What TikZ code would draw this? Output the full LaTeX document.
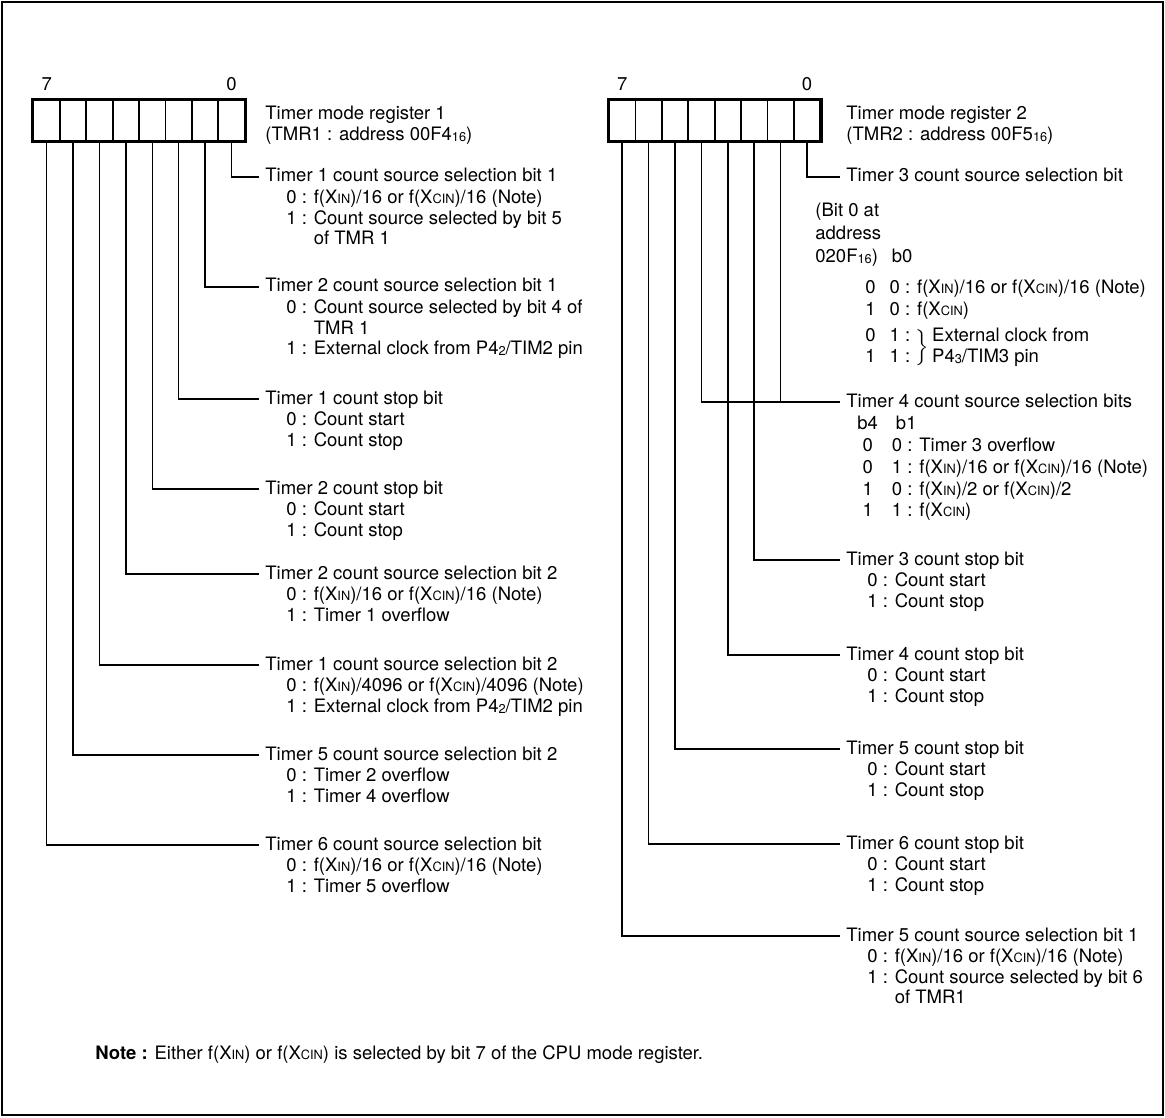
\documentclass[tikz,border=0pt]{standalone}
\usepackage{fontspec}
\setmainfont{TeX Gyre Heros}
\usepackage{tikz}
\usetikzlibrary{positioning}

\newcommand{\Xin}{X{\fontsize{6.4}{7}\selectfont IN}}
\newcommand{\Xcin}{X{\fontsize{6.4}{7}\selectfont CIN}}
\newcommand{\lo}[1]{\raisebox{-0.5pt}{\fontsize{6.4}{7}\selectfont #1}}
\newcommand{\fs}{\rule{0pt}{8.35pt}}
\renewcommand{\arraystretch}{1.05}

\tikzset{
  cell/.style={draw,line width=0.9pt,minimum width=13.2pt,minimum height=20.5pt,inner sep=0pt},
  regbox/.style={draw,line width=1.5pt},
  leader/.style={line width=0.75pt},
  bitno/.style={inner sep=0pt},
  title/.style={anchor=west,inner xsep=3pt,inner ysep=0pt,text height=7pt,text depth=2pt},
  detail/.style={anchor=north west,inner xsep=3pt,inner ysep=0pt,align=left},
  every node/.append style={font=\fontsize{9.25}{10.35}\selectfont}
}

\begin{document}
\begin{tikzpicture}[x=0.5pt,y=-0.5pt]
  \useasboundingbox (0,0) rectangle (1165,1117);
  \draw[line width=1.2pt] (2,2) rectangle (1163,1115);
  \foreach \b in {0,...,7}{
    \node[cell] (l\b) at ({46.7+26.4*(7-\b)},120.5) {};
    \node[cell] (r\b) at ({622.2+26.4*(7-\b)},120.5) {};
  }
  \draw[regbox] (l7.north west) rectangle (l0.south east);
  \draw[regbox] (r7.north west) rectangle (r0.south east);
  \node[bitno,above=4pt of l7] (l7n) {7};
  \node[bitno,above=4pt of l0] (l0n) {0};
  \node[bitno,above=4pt of r7] (r7n) {7};
  \node[bitno,above=4pt of r0] (r0n) {0};

  \node[anchor=west,align=left,inner xsep=3pt] (lname) at (259,125) {Timer mode register 1\\(TMR1 : address 00F4\lo{16})};
  \node[anchor=west,align=left,inner xsep=3pt] (rname) at (840,125) {Timer mode register 2\\(TMR2 : address 00F5\lo{16})};

  \node[title] (tl0) at (259,177) {Timer 1 count source selection bit 1};
  \node[detail] (dl0) at ([xshift=10.5pt]tl0.south west) {\fs 0 : f(\Xin)/16 or f(\Xcin)/16 (Note)\\1 : Count source selected by bit 5\\\phantom{1 : }of TMR 1};
  \node[title] (tl1) at (259,287) {Timer 2 count source selection bit 1};
  \node[detail] (dl1) at ([xshift=10.5pt]tl1.south west) {\fs 0 : Count source selected by bit 4 of\\\phantom{0 : }TMR 1\\1 : External clock from P4\lo{2}/TIM2 pin};
  \node[title] (tl2) at (259,399) {Timer 1 count stop bit};
  \node[detail] (dl2) at ([xshift=10.5pt]tl2.south west) {\fs 0 : Count start\\1 : Count stop};
  \node[title] (tl3) at (259,489) {Timer 2 count stop bit};
  \node[detail] (dl3) at ([xshift=10.5pt]tl3.south west) {\fs 0 : Count start\\1 : Count stop};
  \node[title] (tl4) at (259,574) {Timer 2 count source selection bit 2};
  \node[detail] (dl4) at ([xshift=10.5pt]tl4.south west) {\fs 0 : f(\Xin)/16 or f(\Xcin)/16 (Note)\\1 : Timer 1 overflow};
  \node[title] (tl5) at (259,665) {Timer 1 count source selection bit 2};
  \node[detail] (dl5) at ([xshift=10.5pt]tl5.south west) {\fs 0 : f(\Xin)/4096 or f(\Xcin)/4096 (Note)\\1 : External clock from P4\lo{2}/TIM2 pin};
  \node[title] (tl6) at (259,755) {Timer 5 count source selection bit 2};
  \node[detail] (dl6) at ([xshift=10.5pt]tl6.south west) {\fs 0 : Timer 2 overflow\\1 : Timer 4 overflow};
  \node[title] (tl7) at (259,845) {Timer 6 count source selection bit};
  \node[detail] (dl7) at ([xshift=10.5pt]tl7.south west) {\fs 0 : f(\Xin)/16 or f(\Xcin)/16 (Note)\\1 : Timer 5 overflow};

  \node[title] (tr0) at (840,177) {Timer 3 count source selection bit};
  \node[anchor=west,align=left,inner sep=0pt] (hdr0) at (815,235) {(Bit 0 at\\[1.15pt]address\\[1.15pt]020F\lo{16})\hspace{7pt}b0};
  \node[anchor=west,inner sep=0pt] (rows0) at (865,324) {\begin{tabular}{@{}c@{\hspace{7pt}}l@{}}
    0 & 0 : f(\Xin)/16 or f(\Xcin)/16 (Note)\\
    1 & 0 : f(\Xcin)\\[2pt]
    0 & 1 :\rlap{\raisebox{-5.5pt}[0pt][0pt]{\,$\left.\vcenter{\hbox{\rule{0pt}{14pt}}}\right\}$\,\begin{tabular}{@{}l@{}}External clock from\\P4\lo{3}/TIM3 pin\end{tabular}}}\\
    1 & 1 :
  \end{tabular}};
  \node[title] (tr4) at (840,402) {Timer 4 count source selection bits};
  \node[anchor=west,inner sep=0pt] (rows4) at (857,469) {\begin{tabular}{@{}c@{\hspace{7pt}}l@{}}
    b4 & \hspace{2pt}b1\\
    0 & 0 : Timer 3 overflow\\
    0 & 1 : f(\Xin)/16 or f(\Xcin)/16 (Note)\\
    1 & 0 : f(\Xin)/2 or f(\Xcin)/2\\
    1 & 1 : f(\Xcin)
  \end{tabular}};
  \node[title] (tr2) at (840,560) {Timer 3 count stop bit};
  \node[detail] (dr2) at ([xshift=10.5pt]tr2.south west) {\fs 0 : Count start\\1 : Count stop};
  \node[title] (tr3) at (840,655) {Timer 4 count stop bit};
  \node[detail] (dr3) at ([xshift=10.5pt]tr3.south west) {\fs 0 : Count start\\1 : Count stop};
  \node[title] (tr5) at (840,749) {Timer 5 count stop bit};
  \node[detail] (dr5) at ([xshift=10.5pt]tr5.south west) {\fs 0 : Count start\\1 : Count stop};
  \node[title] (tr6) at (840,844) {Timer 6 count stop bit};
  \node[detail] (dr6) at ([xshift=10.5pt]tr6.south west) {\fs 0 : Count start\\1 : Count stop};
  \node[title] (tr7) at (840,936) {Timer 5 count source selection bit 1};
  \node[detail] (dr7) at ([xshift=10.5pt]tr7.south west) {\fs 0 : f(\Xin)/16 or f(\Xcin)/16 (Note)\\1 : Count source selected by bit 6\\\phantom{1 : }of TMR1};

  \foreach \b in {0,...,7}
    \draw[leader] (l\b.south) |- (tl\b.west);
  \foreach \b in {0,2,3,4,5,6,7}
    \draw[leader] (r\b.south) |- (tr\b.west);
  \draw[leader] (r1.south) -- (r1.south |- tr4.west);

  \node[anchor=west,inner sep=0pt] (note) at (95,1055) {\textbf{Note :} Either f(\Xin) or f(\Xcin) is selected by bit 7 of the CPU mode register.};
\end{tikzpicture}
\end{document}
